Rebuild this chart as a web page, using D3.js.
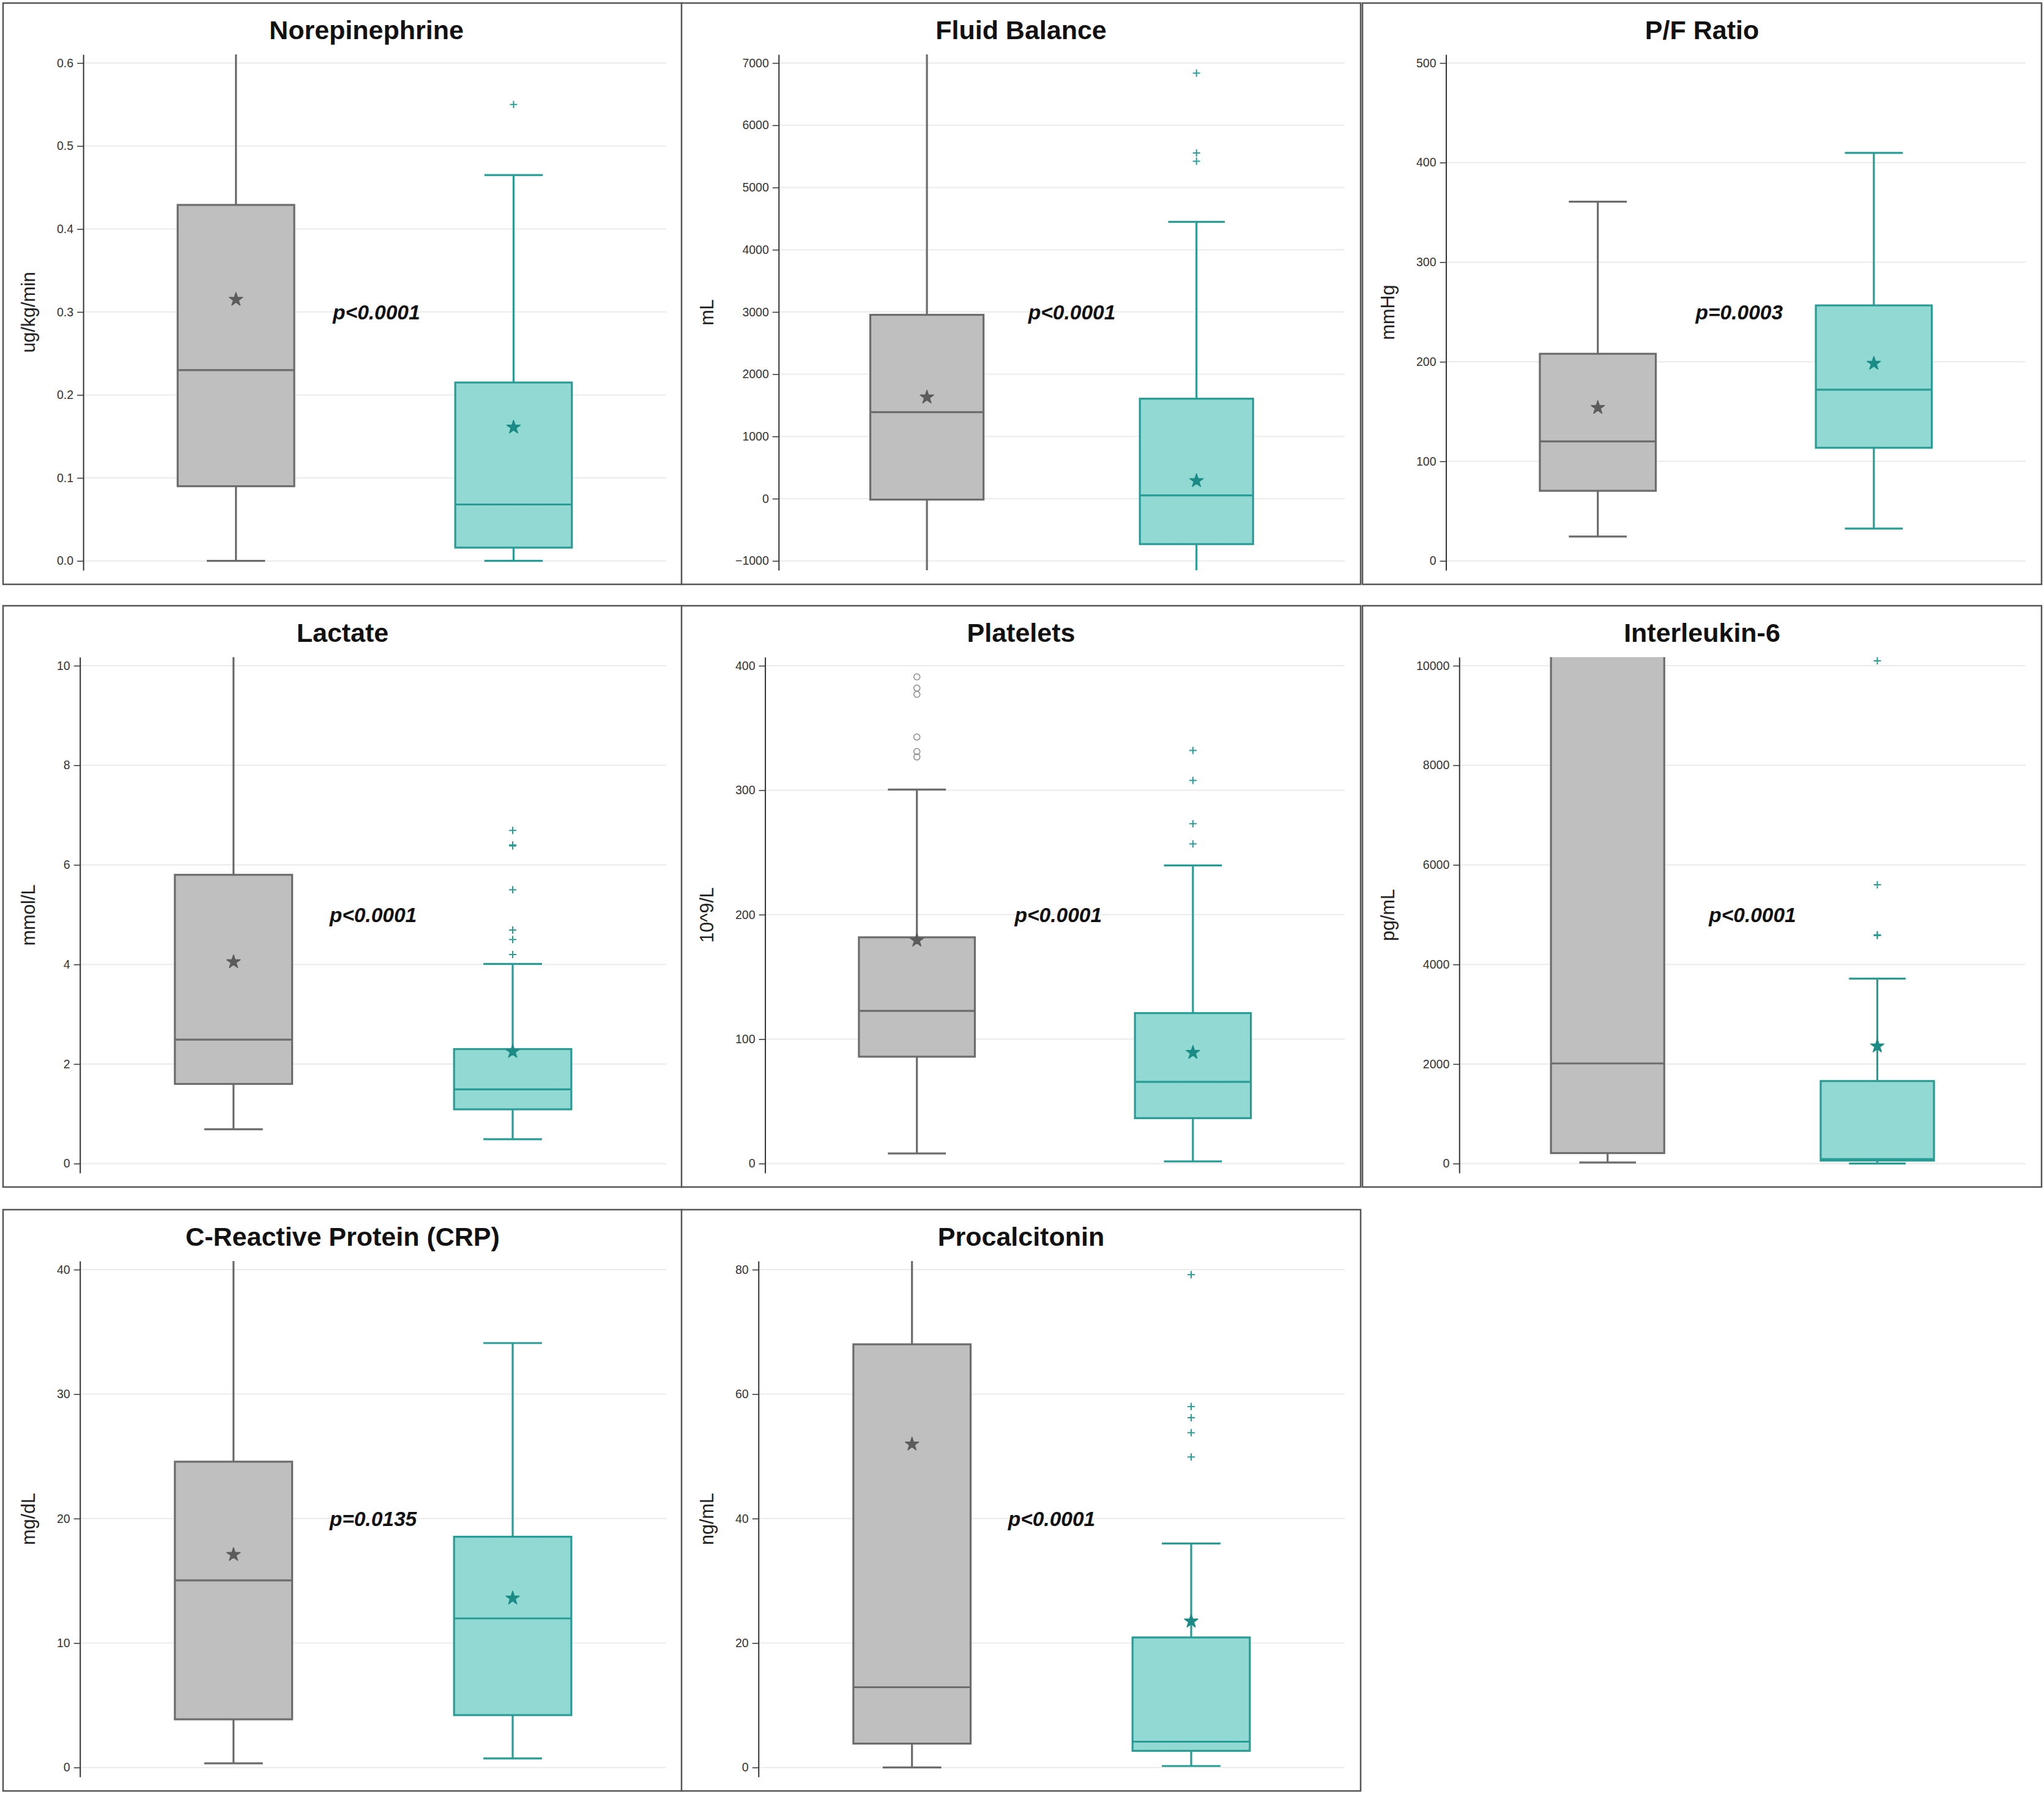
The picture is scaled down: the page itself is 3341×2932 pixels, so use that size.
<!DOCTYPE html>
<html><head><meta charset="utf-8">
<script src="https://cdn.jsdelivr.net/npm/d3@7"></script>
<style>html,body{margin:0;padding:0;background:#fff;} svg{display:block;}</style>
</head><body>
<svg id="chart" width="3341" height="2932"></svg>
<script>
// ---------------- DATA ----------------
const titles = ["Norepinephrine","Fluid Balance","P/F Ratio","Lactate","Platelets","Interleukin-6","C-Reactive Protein (CRP)","Procalcitonin"];
const units = ["ug/kg/min","mL","mmHg","mmol/L","10^9/L","pg/mL","mg/dL","ng/mL"];
const pLabels = ["p<0.0001","p<0.0001","p=0.0003","p<0.0001","p<0.0001","p<0.0001","p=0.0135","p<0.0001"];
const yTicks = [
  [0,0.1,0.2,0.3,0.4,0.5,0.6],
  [-1000,0,1000,2000,3000,4000,5000,6000,7000],
  [0,100,200,300,400,500],
  [0,2,4,6,8,10],
  [0,100,200,300,400],
  [0,2000,4000,6000,8000,10000],
  [0,10,20,30,40],
  [0,20,40,60,80]
];
const tickFormats = [".1f","d","d","d","d","d","d","d"];
const groups = ["Group 1","Group 2"];

// group 1 (grey)
const g1Lower  = [0,     -1200, 24.5, 0.69, 8.1,   23,    0.34, 0];
const g1Q1     = [0.09,  -15,   70.4, 1.60, 85.9,  211,   3.87, 3.84];
const g1Median = [0.23,  1389,  120,  2.49, 122.7, 2012,  15.03, 12.9];
const g1Q3     = [0.429, 2954,  208,  5.80, 181.8, 10600, 24.57, 68.0];
const g1Upper  = [0.65,  7400,  360.8,10.6, 300.5, 12500, 42,   86];
const g1Mean   = [0.315, 1630,  153.9,4.05, 179.4, null,  17.1, 51.95];
const g1Outliers = [[],[],[],[],[391,382,377,342.7,331,326.7],[],[],[]];

// group 2 (teal)
const g2Lower  = [0,     -1200, 32.4, 0.49, 1.8,   0,     0.73, 0.24];
const g2Q1     = [0.016, -730,  113.6,1.09, 36.5,  60,    4.21, 2.68];
const g2Median = [0.068, 52,    171.9,1.49, 65.7,  90,    11.98,4.15];
const g2Q3     = [0.215, 1606,  256.6,2.30, 120.9, 1658,  18.54,20.9];
const g2Upper  = [0.465, 4447,  409.7,4.01, 239.6, 3715,  34.1, 36.0];
const g2Mean   = [0.161, 287,   198.3,2.25, 89.2,  2359,  13.6, 23.5];
const g2Outliers = [[0.55],[6837,5555,5423],[],[6.69,6.40,6.38,5.50,4.69,4.50,4.20],[331.9,307.8,273.1,256.8],[10098,5599,4597,4580],[],[79.2,58.0,56.2,53.8,49.9]];

// ---------------- LAYOUT / STYLE ----------------
const FONT = "'Liberation Sans', Arial, Helvetica, sans-serif";
const colX = [5, 1114, 2227];
const rowY = [5, 990, 1977];
const panelW = 1110, panelH = 950;
const plotTopRel = 84, plotBotRel = 927;
const tickTopRel = 98, tickBotRel = 911.7;
const titleShift = [39,0,0,0,0,0,0,0];
const styles = [
  {fill:"#bfbfbf", stroke:"#6c6c6c", mean:"#5c5c5c"},
  {fill:"#92d9d4", stroke:"#2a9c96", mean:"#1b8b85"}
];

const svg = d3.select("#chart");
svg.append("rect").attr("width",3341).attr("height",2932).attr("fill","#fff");
const defs = svg.append("defs");

titles.forEach((title, i) => {
  const col = i % 3, row = Math.floor(i / 3);
  const px = colX[col], py = rowY[row];
  const g = svg.append("g");

  // panel frame
  g.append("rect").attr("x", px).attr("y", py).attr("width", panelW).attr("height", panelH)
    .attr("fill", "#fff").attr("stroke", "#555").attr("stroke-width", 2.5);

  // measure tick label width
  const fmt = d3.format(tickFormats[i]);
  const meas = g.append("g").attr("font-family", FONT).attr("font-size", 19.5);
  let maxW = 0;
  yTicks[i].forEach(t => {
    const tx = meas.append("text").text(fmt(t));
    maxW = Math.max(maxW, tx.node().getComputedTextLength());
  });
  meas.remove();

  const axisX = px + 104 + maxW;
  const plotR = px + panelW - 26;
  const top = py + plotTopRel, bot = py + plotBotRel;

  const tMin = d3.min(yTicks[i]), tMax = d3.max(yTicks[i]);
  const ppu = (tickBotRel - tickTopRel) / (tMax - tMin);
  const y = d3.scaleLinear()
    .domain([tMin - (plotBotRel - tickBotRel) / ppu, tMax + (tickTopRel - plotTopRel) / ppu])
    .range([bot, top]);
  const x = d3.scalePoint().domain(groups).range([axisX, plotR]).padding(0.55);
  const boxW = (plotR - axisX) * 0.2;

  // gridlines
  g.append("g").selectAll("line").data(yTicks[i]).join("line")
    .attr("x1", axisX).attr("x2", plotR)
    .attr("y1", d => y(d)).attr("y2", d => y(d))
    .attr("stroke", "#ebebeb").attr("stroke-width", 2);

  // axis
  const ax = g.append("g").attr("transform", `translate(${axisX},0)`)
    .call(d3.axisLeft(y).tickValues(yTicks[i]).tickFormat(fmt).tickSize(10).tickSizeOuter(0).tickPadding(6));
  ax.select(".domain").attr("stroke", "#333").attr("stroke-width", 2);
  ax.selectAll(".tick line").attr("stroke", "#333").attr("stroke-width", 1.5);
  ax.selectAll(".tick text").attr("font-family", FONT).attr("font-size", 19.5).attr("fill", "#333");

  // clip
  const cid = "clip" + i;
  defs.append("clipPath").attr("id", cid).append("rect")
    .attr("x", axisX + 1).attr("y", top).attr("width", plotR - axisX).attr("height", bot - top);
  const pg = g.append("g").attr("clip-path", `url(#${cid})`);

  const stats = [
    {lower:g1Lower[i], q1:g1Q1[i], med:g1Median[i], q3:g1Q3[i], upper:g1Upper[i], mean:g1Mean[i], out:g1Outliers[i]},
    {lower:g2Lower[i], q1:g2Q1[i], med:g2Median[i], q3:g2Q3[i], upper:g2Upper[i], mean:g2Mean[i], out:g2Outliers[i]}
  ];

  stats.forEach((s, k) => {
    const st = styles[k];
    const cx = x(groups[k]);
    const bg = pg.append("g");
    const sw = 3.2;
    // whiskers
    bg.append("line").attr("x1", cx).attr("x2", cx).attr("y1", y(s.q3)).attr("y2", y(s.upper))
      .attr("stroke", st.stroke).attr("stroke-width", sw);
    bg.append("line").attr("x1", cx).attr("x2", cx).attr("y1", y(s.q1)).attr("y2", y(s.lower))
      .attr("stroke", st.stroke).attr("stroke-width", sw);
    [s.upper, s.lower].forEach(v => {
      bg.append("line").attr("x1", cx - boxW / 4).attr("x2", cx + boxW / 4)
        .attr("y1", y(v)).attr("y2", y(v)).attr("stroke", st.stroke).attr("stroke-width", sw);
    });
    // box
    bg.append("rect").attr("x", cx - boxW / 2).attr("y", y(s.q3))
      .attr("width", boxW).attr("height", y(s.q1) - y(s.q3))
      .attr("fill", st.fill).attr("stroke", st.stroke).attr("stroke-width", sw);
    // median
    bg.append("line").attr("x1", cx - boxW / 2).attr("x2", cx + boxW / 2)
      .attr("y1", y(s.med)).attr("y2", y(s.med)).attr("stroke", st.stroke).attr("stroke-width", sw);
    // mean star
    if (s.mean !== null) {
      bg.append("path").attr("d", d3.symbol(d3.symbolStar, 150)())
        .attr("transform", `translate(${cx},${y(s.mean)})`)
        .attr("fill", st.mean).attr("stroke", st.mean).attr("stroke-width", 1.5).attr("stroke-linejoin", "round");
    }
    // outliers
    s.out.forEach(v => {
      if (k === 0) {
        bg.append("circle").attr("cx", cx).attr("cy", y(v)).attr("r", 5)
          .attr("fill", "none").attr("stroke", "#8a8a8a").attr("stroke-width", 1.5);
      } else {
        bg.append("path").attr("d", "M-6,0H6M0,-6V6")
          .attr("transform", `translate(${cx},${y(v)})`)
          .attr("stroke", st.stroke).attr("stroke-width", 2).attr("fill", "none");
      }
    });
  });

  // title
  g.append("text").attr("x", px + panelW / 2 + titleShift[i]).attr("y", py + 59)
    .attr("text-anchor", "middle").attr("font-family", FONT).attr("font-weight", "bold")
    .attr("font-size", 43).attr("fill", "#111").text(title);

  // y label
  const ly = (top + bot) / 2;
  g.append("text").attr("transform", `translate(${px + 52},${ly}) rotate(-90)`)
    .attr("text-anchor", "middle").attr("font-family", FONT).attr("font-size", 30.5)
    .attr("fill", "#222").text(units[i]);

  // p value
  g.append("text").attr("x", axisX + 408).attr("y", py + 517)
    .attr("font-family", FONT).attr("font-weight", "bold").attr("font-style", "italic")
    .attr("font-size", 33.5).attr("fill", "#111").text(pLabels[i]);
});
</script>
</body></html>
